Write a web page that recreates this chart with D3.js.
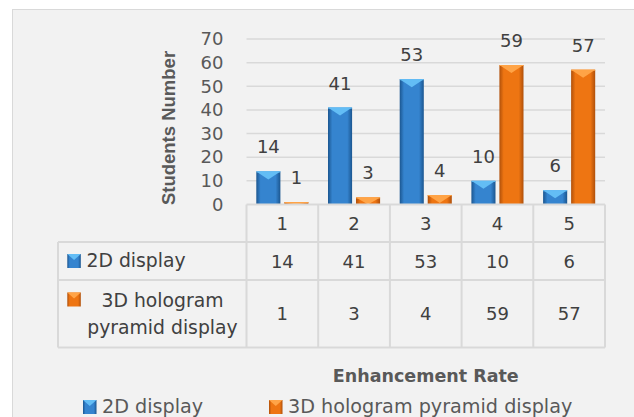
<!DOCTYPE html>
<html>
<head>
<meta charset="utf-8">
<script src="https://cdn.jsdelivr.net/npm/d3@7"></script>
<style>
  body { margin: 0; background: #fff; }
  svg text { font-family: "DejaVu Sans", sans-serif; }
</style>
</head>
<body>
<div id="chart"></div>
<script>
// chart values
const categories = ["1", "2", "3", "4", "5"];
const seriesNames = ["2D display", "3D hologram pyramid display"];
const values2D = [14, 41, 53, 10, 6];
const values3D = [1, 3, 4, 59, 57];
const yTicks = [0, 10, 20, 30, 40, 50, 60, 70];

const width = 634;
const height = 417;

// plot area
const plotLeft = 246.5;
const plotRight = 605;
const plotTop = 39;
const plotBottom = 204.5;

// table rows
const row1Bottom = 242;
const row2Bottom = 280;
const row3Bottom = 347.5;
const tableLeft = 58;

const colors = [
  { dark: "#1b5690", mid: "#3584cf", light: "#63bdf5" },
  { dark: "#b0500a", mid: "#ee7512", light: "#ffa447" }
];

const series = [values2D, values3D];
const data = categories.map((c, i) => ({ cat: c, vals: series.map((s) => s[i]) }));

const x = d3.scaleBand(categories, [plotLeft, plotRight]);
const x1 = d3.scaleBand([0, 1], [0, x.bandwidth()]).paddingInner(0.14).paddingOuter(0.35);
const y = d3.scaleLinear([0, 70], [plotBottom, plotTop]);

const svg = d3.create("svg").attr("width", width).attr("height", height);

// gradients for bars
const defs = svg.append("defs");
colors.forEach((c, i) => {
  const g = defs.append("linearGradient").attr("id", "grad" + i)
    .attr("x1", "0%").attr("x2", "100%").attr("y1", "0%").attr("y2", "0%");
  g.append("stop").attr("offset", "0%").attr("stop-color", c.dark);
  g.append("stop").attr("offset", "18%").attr("stop-color", c.mid);
  g.append("stop").attr("offset", "80%").attr("stop-color", c.mid);
  g.append("stop").attr("offset", "100%").attr("stop-color", c.dark);
});

// panel background
svg.append("rect")
  .attr("x", 12.5).attr("y", 9.5)
  .attr("width", 640).attr("height", 420)
  .attr("fill", "#f2f2f2")
  .attr("stroke", "#d9d9d9")
  .attr("stroke-width", 1);

// gridlines
svg.append("g")
  .selectAll("line")
  .data(yTicks.filter((t) => t > 0))
  .join("line")
  .attr("x1", plotLeft).attr("x2", plotRight)
  .attr("y1", (d) => y(d)).attr("y2", (d) => y(d))
  .attr("stroke", "#d9d9d9")
  .attr("stroke-width", 1.5);

// y axis labels
svg.append("g")
  .attr("transform", `translate(${plotLeft - 23},0)`)
  .call(d3.axisLeft(y).tickValues(yTicks).tickSize(0).tickPadding(0))
  .call((g) => g.select(".domain").remove())
  .call((g) => g.selectAll("text")
    .attr("font-family", "DejaVu Sans")
    .attr("font-size", 18)
    .attr("fill", "#595959"));

// y axis title
svg.append("text")
  .attr("transform", `translate(175,128) rotate(-90)`)
  .attr("text-anchor", "middle")
  .style("font-family", "Liberation Sans")
  .attr("font-weight", "bold")
  .attr("font-size", 18.5)
  .attr("fill", "#595959")
  .text("Students Number");

// bevelled bar drawing
function drawBar(g, bx, by, bw, bh, ci) {
  if (bh <= 0) return;
  const c = colors[ci];
  g.append("rect")
    .attr("x", bx).attr("y", by)
    .attr("width", bw).attr("height", bh)
    .attr("fill", `url(#grad${ci})`);
  const th = Math.min(8, bh);
  g.append("path")
    .attr("d", `M${bx},${by}L${bx + bw},${by}L${bx + bw / 2},${by + th}Z`)
    .attr("fill", c.light);
  g.append("line")
    .attr("x1", bx).attr("x2", bx + bw)
    .attr("y1", by + 0.5).attr("y2", by + 0.5)
    .attr("stroke", c.light).attr("stroke-width", 1);
}

const bars = svg.append("g");
data.forEach((d) => {
  d.vals.forEach((v, si) => {
    const bx = x(d.cat) + x1(si);
    const bw = x1.bandwidth();
    drawBar(bars, bx, y(v), bw, y(0) - y(v), si);
    bars.append("text")
      .attr("x", bx + bw / 2)
      .attr("y", y(v) - 18)
      .attr("text-anchor", "middle")
      .attr("font-size", 18)
      .attr("fill", "#404040")
      .text(v);
  });
});

// data table
const lineColor = "#d9d9d9";
const table = svg.append("g").attr("stroke", lineColor).attr("stroke-width", 2).attr("fill", "none");
// horizontal lines
table.append("line").attr("x1", plotLeft).attr("x2", plotRight).attr("y1", plotBottom).attr("y2", plotBottom);
[row1Bottom, row2Bottom, row3Bottom].forEach((ry) => {
  table.append("line").attr("x1", tableLeft).attr("x2", plotRight).attr("y1", ry).attr("y2", ry);
});
// vertical lines
table.append("line").attr("x1", tableLeft).attr("x2", tableLeft).attr("y1", row1Bottom).attr("y2", row3Bottom);
categories.forEach((c) => {
  table.append("line").attr("x1", x(c)).attr("x2", x(c)).attr("y1", plotBottom).attr("y2", row3Bottom);
});
table.append("line").attr("x1", plotRight).attr("x2", plotRight).attr("y1", plotBottom).attr("y2", row3Bottom);

const cells = svg.append("g")
  .attr("font-size", 18)
  .attr("fill", "#404040")
  .attr("text-anchor", "middle");

const rowCenters = [(plotBottom + row1Bottom) / 2, (row1Bottom + row2Bottom) / 2, (row2Bottom + row3Bottom) / 2];
categories.forEach((c) => {
  cells.append("text")
    .attr("x", x(c) + x.bandwidth() / 2)
    .attr("y", rowCenters[0])
    .attr("dominant-baseline", "central")
    .text(c);
});
series.forEach((s, si) => {
  s.forEach((v, i) => {
    cells.append("text")
      .attr("x", x(categories[i]) + x.bandwidth() / 2)
      .attr("y", rowCenters[si + 1])
      .attr("dominant-baseline", "central")
      .text(v);
  });
});

// legend key marker
function drawKey(g, kx, ky, ci) {
  const c = colors[ci];
  const kw = 13.5, kh = 14;
  g.append("rect").attr("x", kx).attr("y", ky).attr("width", kw).attr("height", kh)
    .attr("fill", `url(#grad${ci})`);
  g.append("path")
    .attr("d", `M${kx},${ky}L${kx + kw},${ky}L${kx + kw / 2},${ky + 6}Z`)
    .attr("fill", c.light);
}

// row labels
const rowLabels = svg.append("g").attr("font-size", 18.8).attr("fill", "#404040");
drawKey(rowLabels, 67.3, 254, 0);
rowLabels.append("text").attr("x", 86.5).attr("y", 267.3).text(seriesNames[0]);
drawKey(rowLabels, 67.3, 292.5, 1);
rowLabels.append("text").attr("x", 162.5).attr("y", 306.7).attr("text-anchor", "middle").text("3D hologram");
rowLabels.append("text").attr("x", 162.5).attr("y", 334).attr("text-anchor", "middle").text("pyramid display");

// x axis title
svg.append("text")
  .attr("x", (plotLeft + plotRight) / 2)
  .attr("y", 381.5)
  .attr("text-anchor", "middle")
  .attr("font-weight", "bold")
  .attr("font-size", 17.5)
  .attr("fill", "#595959")
  .text("Enhancement Rate");

// legend
const legend = svg.append("g").attr("font-size", 19.2).attr("fill", "#595959");
const legendX = [83, 269];
seriesNames.forEach((name, i) => {
  drawKey(legend, legendX[i], 400, i);
  legend.append("text").attr("x", legendX[i] + 19).attr("y", 413.3).text(name);
});

d3.select("#chart").node().appendChild(svg.node());
</script>
</body>
</html>
